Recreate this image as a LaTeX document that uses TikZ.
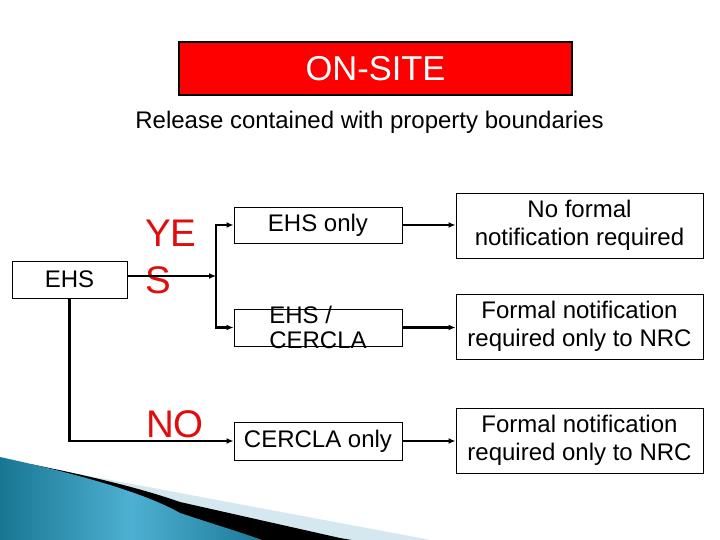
\documentclass[tikz,border=0pt]{standalone}
\usepackage{fontspec}
\setmainfont{Liberation Sans}
\usetikzlibrary{arrows.meta}
\definecolor{yesred}{RGB}{225,12,12}
\definecolor{titlered}{RGB}{255,0,0}
\definecolor{tealdark}{RGB}{24,118,146}
\definecolor{teallight}{RGB}{78,176,210}
\definecolor{tealright}{RGB}{28,122,152}
\definecolor{paleband}{RGB}{214,232,239}
\begin{document}
\begin{tikzpicture}[x=1bp,y=-1bp,
  box/.style={draw=black, line width=0.9bp, inner sep=0pt, fill=white},
  txt/.style={font=\fontsize{24bp}{28.5bp}\selectfont, align=center},
  conn/.style={line width=2.4bp, -{Latex[length=7bp,width=6bp]}},
  bigred/.style={font=\fontsize{38.5bp}{47bp}\selectfont, text=yesred, inner sep=0pt}]
\useasboundingbox (0,0) rectangle (720,540);
\fill[white] (0,0) rectangle (720,540);

% bottom-left decoration
\fill[paleband] (40,467) -- (100,478) -- (180,493) -- (340,523) -- (431,540) -- (0,540) -- cycle;
\fill[black] (30,464) .. controls (90,476) and (140,488) .. (180,502) -- (340,538) -- (352,540) -- (0,540) -- cycle;
\shade[left color=tealdark, right color=tealright, middle color=teallight]
  (0,457) .. controls (60,470) and (140,490) .. (180,513) .. controls (210,523) and (240,532) .. (262,540) -- (0,540) -- cycle;

% title
\node[draw=black, line width=2.2bp, fill=titlered, minimum width=393bp, minimum height=53bp, inner sep=0pt,
      text=white, font=\fontsize{34.5bp}{40bp}\selectfont] (onsite) at (375.5,68.5) {ON-SITE};
\node[anchor=base, inner sep=0pt, font=\fontsize{24bp}{28bp}\selectfont] (release) at (369.5,129)
  {Release contained with property boundaries};

% yes / no labels
\node[bigred, anchor=north west, align=left] (yes) at (145,219.5) {YE\\S};
\node[bigred, anchor=base west] (no) at (146,437) {NO};

% boxes
\node[box, txt, minimum width=115bp, minimum height=37bp] (ehs) at (69.5,279.5) {EHS};
\node[box, txt, minimum width=168bp, minimum height=36bp] (ehsonly) at (318,225) {EHS only};
\node[box, minimum width=168bp, minimum height=37bp] (ec) at (318,327.5) {};
\node[inner sep=0pt, align=left, font=\fontsize{24bp}{25bp}\selectfont] (ectext) at (ec.center) {EHS /\\CERCLA};
\node[box, txt, minimum width=168bp, minimum height=38bp] (cerclaonly) at (318,441) {CERCLA only};
\node[box, txt, minimum width=247bp, minimum height=65bp] (nf) at (579.5,225.5) {No formal\\notification required};
\node[box, txt, minimum width=247bp, minimum height=65bp] (f1) at (579.5,326.5) {Formal notification\\required only to NRC};
\node[box, txt, minimum width=247bp, minimum height=65bp] (f2) at (579.5,440.5) {Formal notification\\required only to NRC};

% connectors
\coordinate (j) at (216,276);
\draw[conn] (ehs.east |- j) -- (j);
\draw[conn] (j) |- (ehsonly.west);
\draw[conn] (j) |- (ec.west);
\draw[conn] (ehs.south) |- (cerclaonly.west);
\draw[conn] (ehsonly.east) -- (ehsonly.east -| nf.west);
\draw[conn] (ec.east) -- (ec.east -| f1.west);
\draw[conn] (cerclaonly.east) -- (cerclaonly.east -| f2.west);
\end{tikzpicture}
\end{document}
